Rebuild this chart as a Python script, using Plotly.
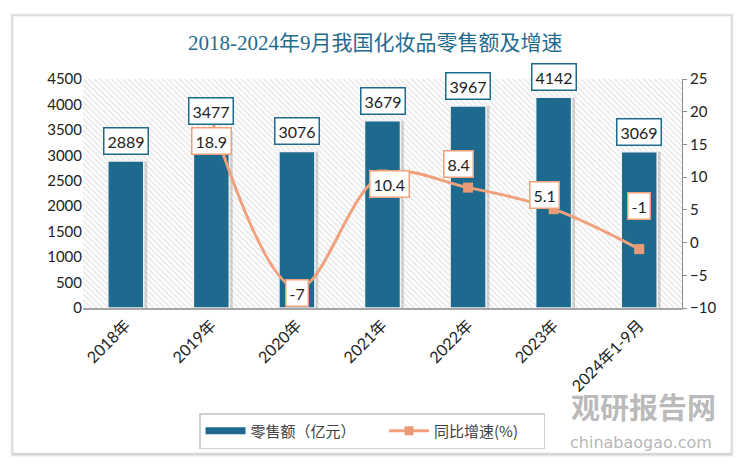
import plotly.graph_objects as go

categories = ["2018年", "2019年", "2020年", "2021年", "2022年", "2023年", "2024年1-9月"]
sales = [2889, 3477, 3076, 3679, 3967, 4142, 3069]
growth = [None, 18.9, -7, 10.4, 8.4, 5.1, -1]
growth_labels = ["18.9", "-7", "10.4", "8.4", "5.1", "-1"]
left_ticks = [0, 500, 1000, 1500, 2000, 2500, 3000, 3500, 4000, 4500]
right_ticks = [-10, -5, 0, 5, 10, 15, 20, 25]

BAR = "#1D6A8E"
LINE = "#F0A07B"
MARK = "#E99B77"
TXT = "#222222"
FONT = "Lato, Noto Sans CJK SC"

OFF = 8  # page body margin
W, H = 750 - OFF, 471 - OFF
# target plot area in screen pixels: x 83..682, y 79..308
L, T = 83 - OFF, 79 - OFF
R = W - (682 - OFF)
B = H - (308 - OFF)
pw, ph = W - L - R, H - T - B

def px(x):
    return (x - OFF - L) / pw

def py(y):
    return (H - B - (y - OFF)) / ph

fig = go.Figure()

# hatched plot background
fig.add_trace(go.Bar(
    x=categories, y=[left_ticks[-1]] * len(categories), width=1.0,
    marker=dict(color="white", line=dict(width=0),
                pattern=dict(shape="\\", fgcolor="#c4c4c4", bgcolor="white", size=4, solidity=0.3)),
    hoverinfo="skip", showlegend=False,
))
# bar shadow
fig.add_trace(go.Bar(
    x=categories, y=sales, width=0.42, offset=-0.17,
    marker=dict(color="rgba(120,120,120,0.3)", line=dict(width=0)),
    hoverinfo="skip", showlegend=False,
))
fig.add_trace(go.Bar(
    x=categories, y=sales, width=0.42, name="零售额（亿元）",
    marker=dict(color=BAR, line=dict(color="#f2f2f2", width=1.5)),
    showlegend=False,
))
fig.add_trace(go.Scatter(
    x=categories[1:], y=growth[1:], yaxis="y2", mode="lines+markers", name="同比增速(%)",
    line=dict(color=LINE, width=3, shape="spline", smoothing=1.0),
    marker=dict(symbol="square", size=10, color=MARK),
    showlegend=False,
))
# legend proxies
fig.add_trace(go.Scatter(x=[None], y=[None], mode="lines", name="零售额（亿元）       ",
                         line=dict(color=BAR, width=7)))
fig.add_trace(go.Scatter(x=[None], y=[None], mode="lines+markers", name="同比增速(%)      ", yaxis="y2",
                         line=dict(color=LINE, width=3), marker=dict(symbol="square", size=9, color=MARK)))

annotations = []
for c, v in zip(categories, sales):
    annotations.append(dict(
        x=c, y=v, xref="x", yref="y", text=str(v), showarrow=False,
        xanchor="center", yanchor="bottom", yshift=6, font=dict(family=FONT, size=16, color=TXT),
        bgcolor="white", bordercolor=BAR, borderwidth=1.5, borderpad=3,
    ))
shifts = [(0, -22), (0, -5), (7, -9), (-10, 24), (-9, 14), (0, 43)]
for c, v, lab, (dx, dy) in zip(categories[1:], growth[1:], growth_labels, shifts):
    annotations.append(dict(
        x=c, y=v, xref="x", yref="y2", text=lab, showarrow=False,
        xanchor="center", yanchor="middle",
        xshift=dx, yshift=dy, font=dict(family=FONT, size=16, color=TXT),
        bgcolor="white", bordercolor=LINE, borderwidth=1.5, borderpad=3,
    ))
annotations.append(dict(
    x=px(375), y=py(43), xref="paper", yref="paper", showarrow=False,
    xanchor="center", yanchor="middle",
    text="2018-2024年9月我国化妆品零售额及增速",
    font=dict(family="Liberation Serif, Noto Sans CJK SC", size=21, color="#1F6B8F"),
))
annotations.append(dict(
    x=px(643), y=py(406), xref="paper", yref="paper", showarrow=False,
    xanchor="center", yanchor="middle",
    text="<b>观研报告网</b>", font=dict(family="Noto Sans CJK SC", size=29, color="rgba(140,140,140,0.6)"),
))
annotations.append(dict(
    x=px(641), y=py(442), xref="paper", yref="paper", showarrow=False,
    xanchor="center", yanchor="middle",
    text="chinabaogao.com", font=dict(family="DejaVu Sans", size=16, color="rgba(140,140,140,0.65)"),
))

shapes = []
for i, a in enumerate([0.04, 0.06, 0.09]):
    d = 3 - i
    shapes.append(dict(type="rect", xref="paper", yref="paper", layer="below",
                       x0=px(13 - d), x1=px(731 + d), y0=py(453 + d + 1), y1=py(16 - d),
                       line=dict(width=0), fillcolor=f"rgba(0,0,0,{a})"))
shapes.append(dict(type="rect", xref="paper", yref="paper", layer="below",
                   x0=px(13), x1=px(731), y0=py(453), y1=py(16),
                   line=dict(color="#e6e6e6", width=1), fillcolor="white"))

fig.update_layout(
    width=W, height=H, margin=dict(l=L, r=R, t=T, b=B),
    paper_bgcolor="white", plot_bgcolor="rgba(0,0,0,0)",
    barmode="overlay", font=dict(family=FONT, color=TXT),
    xaxis=dict(range=[-0.5, 6.5], tickangle=-45, tickfont=dict(size=16, color=TXT),
               showline=True, linecolor="#a6a6a6", linewidth=1.5, ticks="", showgrid=False),
    yaxis=dict(range=[0, 4500], tickvals=left_ticks, showgrid=False, zeroline=False,
               showline=False, tickfont=dict(size=15, color=TXT), ticklen=0),
    yaxis2=dict(range=[-10, 25], tickvals=right_ticks, overlaying="y", side="right",
                showgrid=False, zeroline=False, showline=True, linecolor="#8c8c8c", linewidth=1,
                ticks="outside", ticklen=4, tickcolor="#8c8c8c",
                tickfont=dict(size=15, color=TXT)),
    legend=dict(orientation="h", x=px(199), y=py(413), xanchor="left", yanchor="top",
                bordercolor="#d0d0d0", borderwidth=1.5, bgcolor="white",
                font=dict(family="Noto Sans CJK SC", size=15, color="#404040"),
                itemwidth=40, tracegroupgap=0),
    annotations=annotations, shapes=shapes,
)

fig.write_html("out.html")
